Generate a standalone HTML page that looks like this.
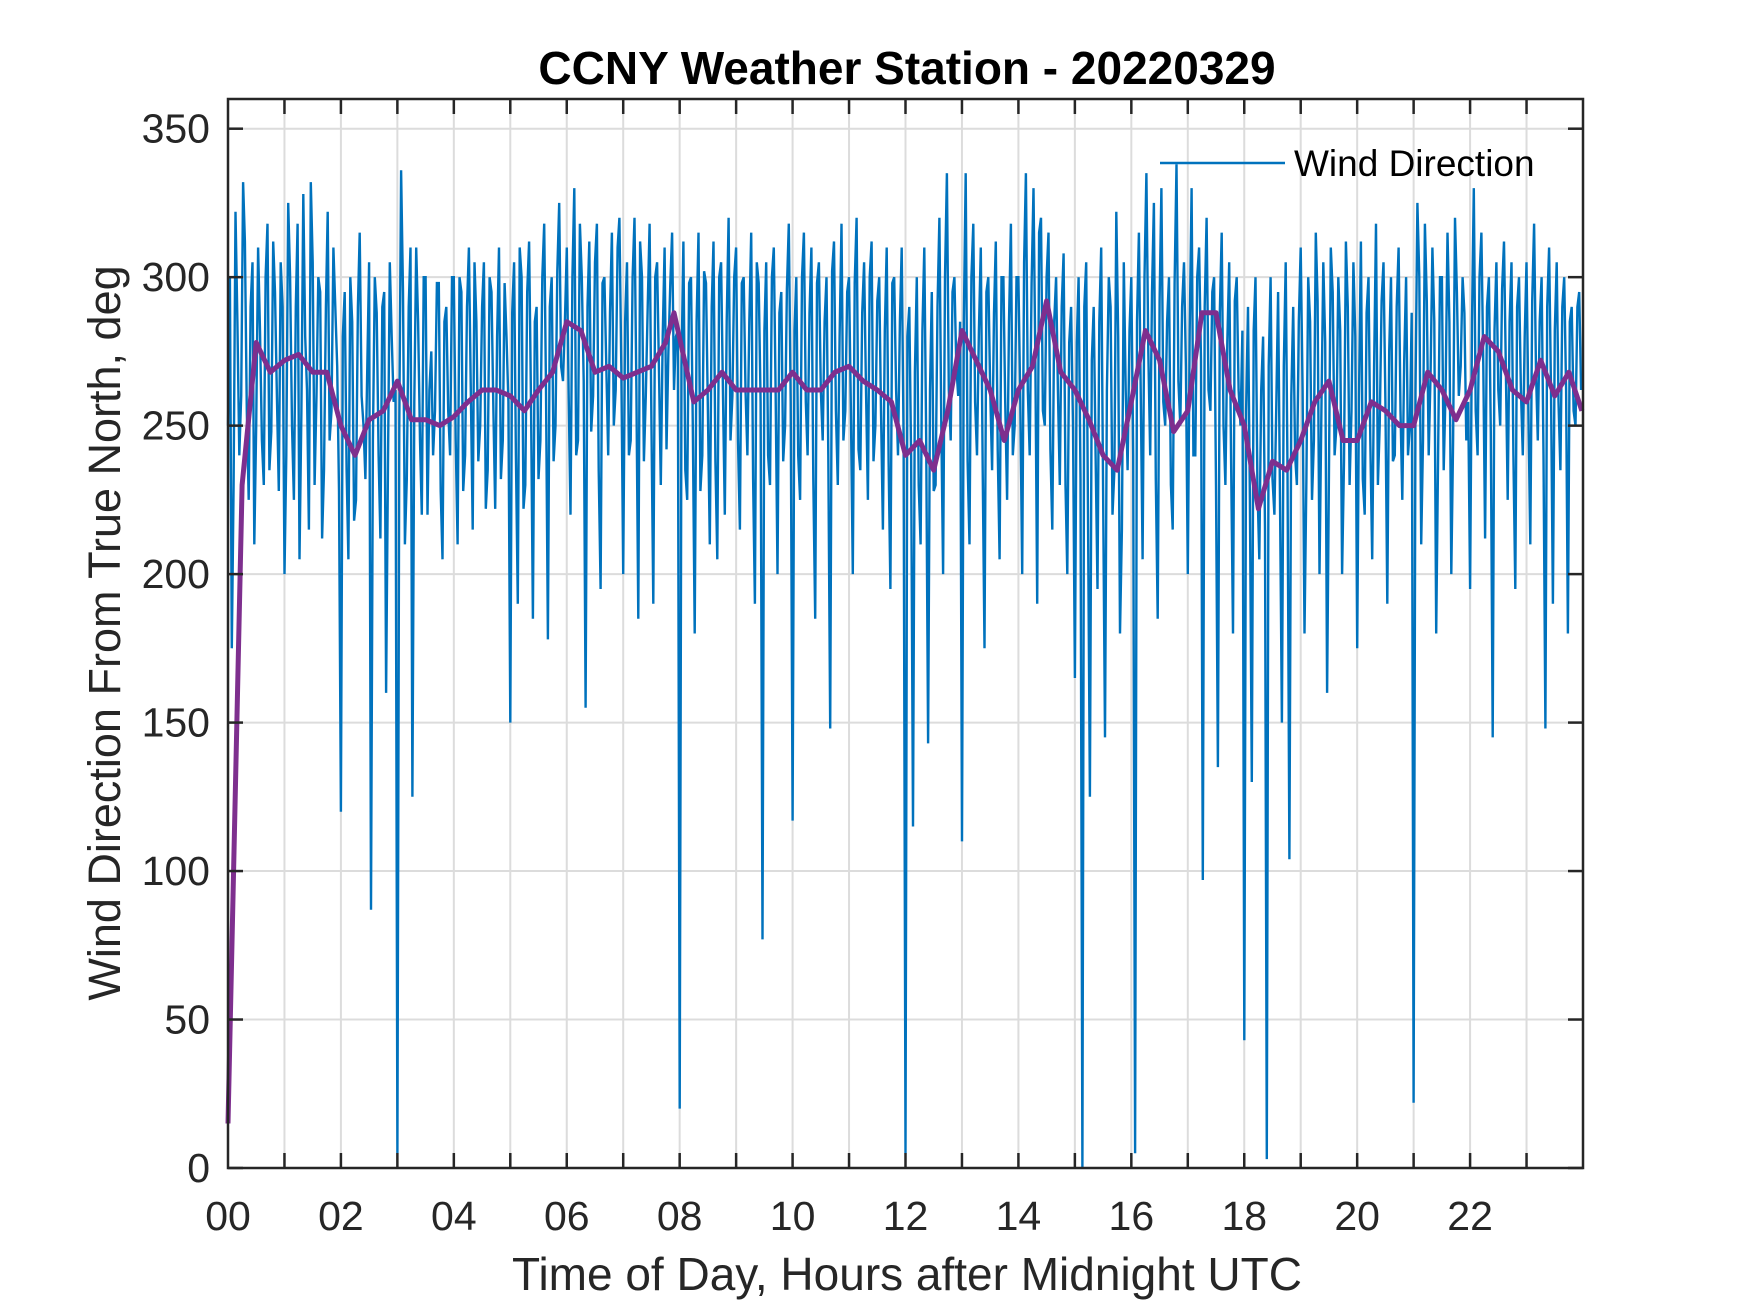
<!DOCTYPE html>
<html><head><meta charset="utf-8"><style>
html,body{margin:0;padding:0;background:#fff;}
svg{display:block;font-family:"Liberation Sans",Arial,sans-serif;}
</style></head><body>
<svg id="chart" width="1750" height="1313" viewBox="0 0 1750 1313" xmlns="http://www.w3.org/2000/svg">
<rect width="1750" height="1313" fill="#fff"/>
<g id="grid"></g>
<g id="series"></g>
<rect x="228" y="99" width="1355" height="1069" fill="none" stroke="#262626" stroke-width="2.5"/>
<g id="ticks"></g>
<text x="907" y="84" text-anchor="middle" font-size="46" font-weight="bold" fill="#000">CCNY Weather Station - 20220329</text>
<text x="907" y="1290" text-anchor="middle" font-size="46" fill="#262626">Time of Day, Hours after Midnight UTC</text>
<text transform="translate(120,633) rotate(-90)" text-anchor="middle" font-size="45" fill="#262626">Wind Direction From True North, deg</text>
<g>
<line x1="1160" y1="163" x2="1285" y2="163" stroke="#0072BD" stroke-width="2.5"/>
<text x="1294" y="176" font-size="37" fill="#000">Wind Direction</text>
</g>
</svg>
<script>
const yTicks = [0,50,100,150,200,250,300,350];
const xTickLabels = ["00","02","04","06","08","10","12","14","16","18","20","22"];
const blueByHour = [
[250,175,322,240,332,255,290,210,310,245,300,235,312,260,305],
[200,325,250,290,205,328,262,332,230,300,212,290,245,310,270],
[120,295,205,285,225,315,250,270,87,300,240,290,160,305,258],
[5,336,210,290,125,310,245,300,220,275,255,298,205,290,240],
[300,210,295,240,310,215,285,250,305,235,295,222,310,245,280],
[150,305,190,300,230,312,185,290,245,318,178,300,250,325,265],
[310,220,330,245,300,155,312,260,318,195,300,240,315,262,320],
[200,305,245,320,185,300,260,318,190,305,230,310,275,315,280],
[20,312,225,300,180,315,240,298,210,312,205,305,220,320,260],
[310,215,300,240,315,190,298,77,305,230,310,200,295,250,318],
[117,300,225,315,240,310,185,305,245,300,148,312,230,318,255],
[300,200,320,235,305,225,312,250,300,215,310,195,300,240,310],
[5,290,115,300,210,310,143,295,230,320,200,335,245,300,260],
[110,335,210,318,240,310,175,300,235,312,205,300,225,318,250],
[300,200,335,240,330,190,320,250,315,215,300,230,308,200,290],
[165,300,0,305,125,290,195,310,145,300,220,322,180,305,235],
[300,5,315,205,335,240,325,185,330,250,300,215,338,250,305],
[200,330,240,310,97,320,255,300,135,315,230,305,180,300,250],
[43,290,130,300,205,280,3,300,220,295,150,305,104,290,230],
[310,180,300,225,315,200,305,160,310,240,300,200,312,230,305],
[175,312,220,300,205,318,250,305,190,300,240,310,225,300,250],
[22,325,210,318,240,310,180,300,235,315,200,320,260,300,245],
[195,330,240,315,212,300,145,305,250,312,225,305,195,300,240],
[305,210,318,245,300,148,310,190,305,235,300,180,290,250,295]
];
const blueByHourB = [
[300,230,285,260,312,225,305,250,282,230,318,248,295,228,290],
[240,300,225,318,255,280,215,305,260,295,235,322,255,290,228],
[280,235,300,218,290,260,232,305,245,288,212,295,238,280,262],
[250,295,232,310,258,285,220,300,262,240,298,228,285,255,300],
[245,300,228,290,262,305,238,290,222,300,255,280,232,298,258],
[288,240,310,222,295,258,285,232,300,262,290,238,302,270,285],
[262,300,240,318,265,290,248,305,235,298,270,288,250,310,270],
[285,240,300,262,312,238,290,252,300,268,280,242,298,262,282],
[270,235,298,250,285,228,302,255,290,238,300,260,285,245,300],
[245,298,262,285,232,305,258,282,240,300,262,288,238,296,258],
[282,240,300,258,288,232,298,262,285,240,302,255,280,245,295],
[255,298,242,288,262,300,238,292,255,282,238,298,262,285,245],
[280,240,268,230,282,245,262,228,290,250,300,262,295,270,285],
[285,238,300,258,282,235,295,262,288,242,300,258,285,240,300],
[258,305,262,298,270,315,255,300,242,285,262,290,230,278,250],
[278,232,290,220,272,240,285,228,262,290,235,280,215,262,282],
[240,285,262,300,275,295,232,292,258,285,230,298,265,290,270],
[282,240,300,272,290,262,295,230,288,250,278,238,292,262,282],
[255,225,282,230,262,215,270,232,255,225,270,235,260,240,285],
[262,232,285,245,292,255,278,232,295,250,282,238,290,255,280],
[260,232,288,245,270,230,292,258,275,238,290,255,272,240,288],
[262,300,245,292,268,285,240,300,262,285,245,295,270,288,258],
[285,255,300,270,290,248,282,262,296,270,285,240,290,262,280],
[255,292,268,285,240,290,262,282,258,290,262,285,255,290,262]
];
const avgTimes = [0,0.25,0.5,0.75,1,1.25,1.5,1.75,2,2.25,2.5,2.75,3,3.25,3.5,3.75,4,4.25,4.5,4.75,5,5.25,5.5,5.75,6,6.25,6.5,6.75,7,7.25,7.5,7.75,7.9,8.25,8.5,8.75,9,9.25,9.5,9.75,10,10.25,10.5,10.75,11,11.25,11.5,11.75,12,12.25,12.5,12.75,13,13.25,13.5,13.75,14,14.25,14.5,14.75,15,15.25,15.5,15.75,16,16.25,16.5,16.75,17,17.25,17.5,17.75,18,18.25,18.5,18.75,19,19.25,19.5,19.75,20,20.25,20.5,20.75,21,21.25,21.5,21.75,22,22.25,22.5,22.75,23,23.25,23.5,23.75,23.98];
const avgValues = [15,230,278,268,272,274,268,268,250,240,252,255,265,252,252,250,253,258,262,262,260,255,262,268,285,282,268,270,266,268,270,278,288,258,262,268,262,262,262,262,268,262,262,268,270,265,262,258,240,245,235,255,282,272,262,245,262,270,292,268,262,252,240,235,258,282,272,248,255,288,288,262,250,222,238,235,245,258,265,245,245,258,255,250,250,268,262,252,262,280,275,262,258,272,260,268,255];

const X0=228, X1=1583, Y0=1168, Y1=99;
const xs = h => X0 + h*(X1-X0)/24;
const ys = v => Y0 - v*(Y0-Y1)/360;
const NS="http://www.w3.org/2000/svg";
function mk(tag, attrs){const e=document.createElementNS(NS,tag);for(const k in attrs)e.setAttribute(k,attrs[k]);return e;}
const grid=document.getElementById('grid'), ticks=document.getElementById('ticks'), series=document.getElementById('series');

for(let h=1;h<24;h++){
  const l=mk('line',{x1:xs(h),x2:xs(h),y1:Y1,y2:Y0,stroke:'#dcdcdc','stroke-width':2});
  
  
  grid.appendChild(l);
  const t1=mk('line',{x1:xs(h),x2:xs(h),y1:Y0,y2:Y0-15,stroke:'#262626','stroke-width':2.5});
  
  
  ticks.appendChild(t1);
  const t2=mk('line',{x1:xs(h),x2:xs(h),y1:Y1,y2:Y1+15,stroke:'#262626','stroke-width':2.5});
  
  
  ticks.appendChild(t2);
}
xTickLabels.forEach((s,i)=>{
  const t=mk('text',{x:xs(i*2),y:1230,'text-anchor':'middle','font-size':41,fill:'#262626'});
  t.textContent=s;
  
  
  ticks.appendChild(t);
});
yTicks.forEach(v=>{
  if(v>0){
    const l=mk('line',{x1:X0,x2:X1,y1:ys(v),y2:ys(v),stroke:'#dcdcdc','stroke-width':2});
    
    
    grid.appendChild(l);
  }
  const a=mk('line',{x1:X0,x2:X0+15,y1:ys(v),y2:ys(v),stroke:'#262626','stroke-width':2.5});
  
  
  ticks.appendChild(a);
  const b=mk('line',{x1:X1,x2:X1-15,y1:ys(v),y2:ys(v),stroke:'#262626','stroke-width':2.5});
  
  
  ticks.appendChild(b);
  const t=mk('text',{x:210,y:ys(v)+14,'text-anchor':'end','font-size':41,fill:'#262626'});
  t.textContent=v;
  
  
  ticks.appendChild(t);
});

let pts=[];
blueByHour.forEach((arr,h)=>arr.forEach((v,i)=>{
  const n=arr.length;
  pts.push(xs(h+i/n).toFixed(1)+','+ys(v).toFixed(1));
  pts.push(xs(h+(i+0.5)/n).toFixed(1)+','+ys(blueByHourB[h][i]).toFixed(1));
}));
const blue=mk('polyline',{points:pts.join(' '),fill:'none',stroke:'#0072BD','stroke-width':2.4,'stroke-linejoin':'miter'});


series.appendChild(blue);

const ap=avgTimes.map((t,i)=>xs(t).toFixed(1)+','+ys(avgValues[i]).toFixed(1));
const purple=mk('polyline',{points:ap.join(' '),fill:'none',stroke:'#7E2F8E','stroke-width':5,'stroke-linejoin':'round'});


series.appendChild(purple);
</script>
</body></html>
